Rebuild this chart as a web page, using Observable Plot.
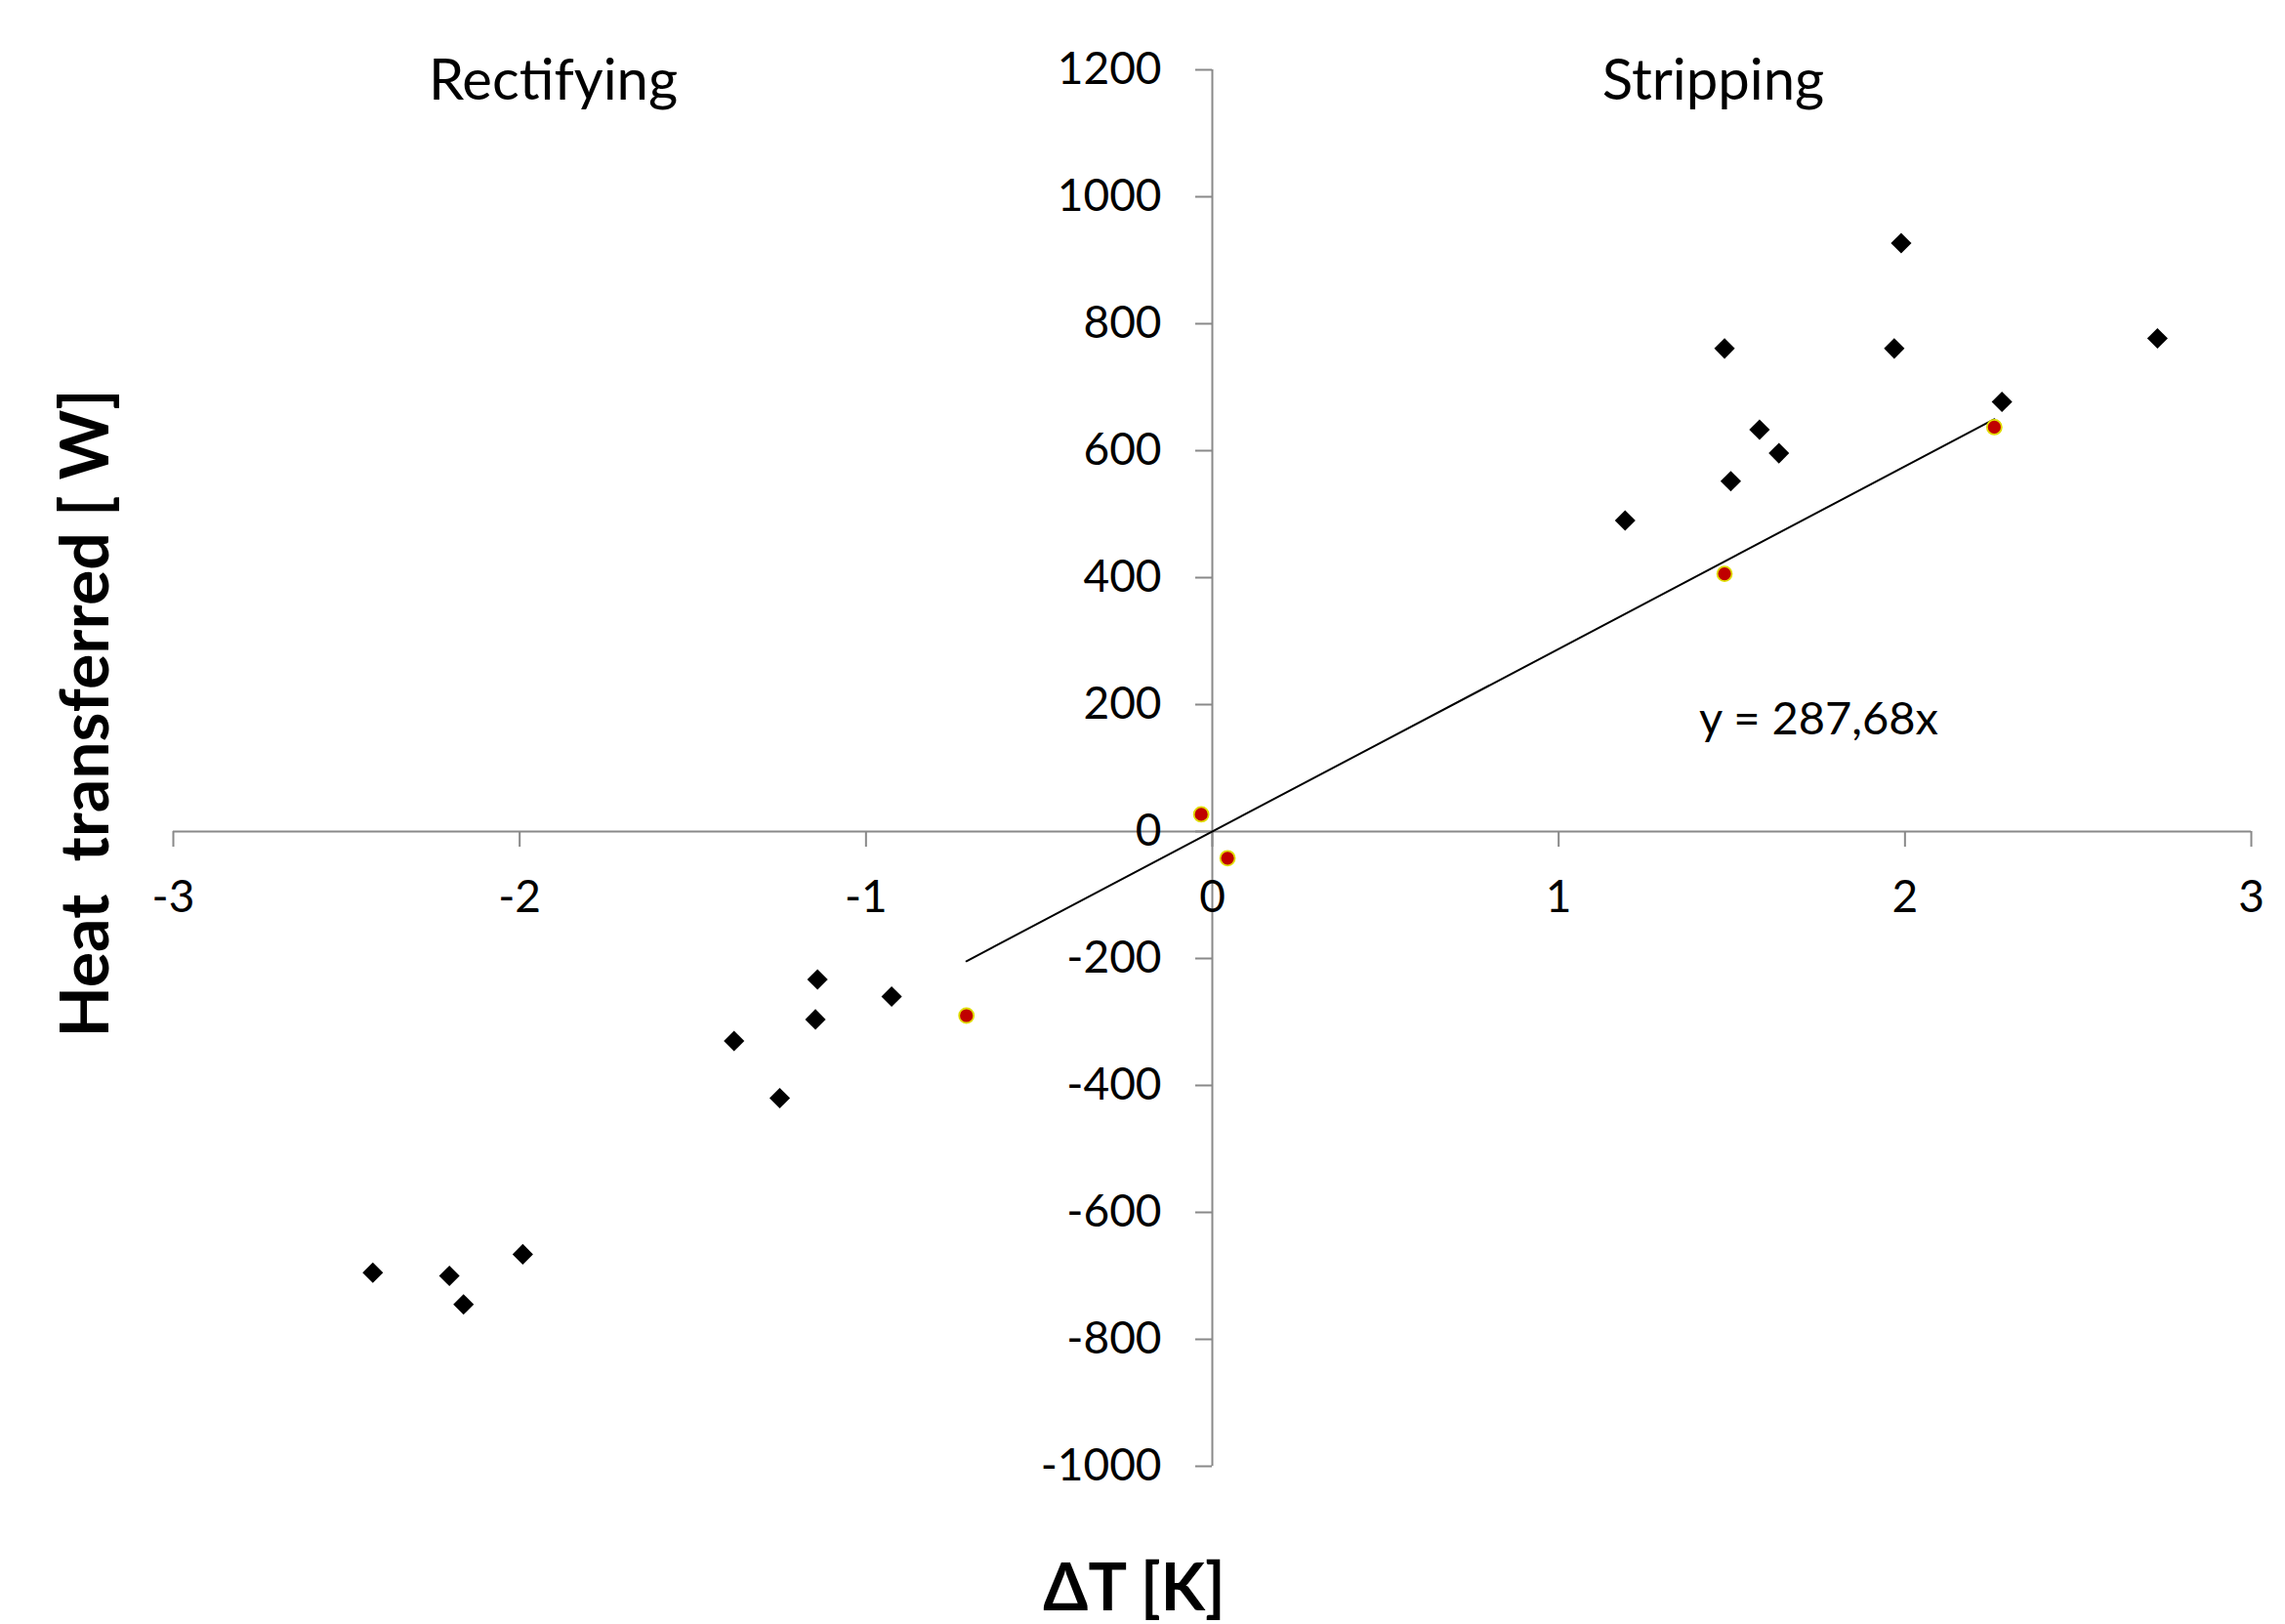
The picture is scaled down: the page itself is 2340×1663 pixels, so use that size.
<!DOCTYPE html>
<html>
<head>
<meta charset="utf-8">
<script src="https://cdn.jsdelivr.net/npm/d3@7"></script>
<script src="https://cdn.jsdelivr.net/npm/@observablehq/plot@0.6"></script>
<style>
  html, body { margin: 0; padding: 0; background: #ffffff; }
  #chart { width: 2340px; height: 1663px; }
</style>
</head>
<body>
<div id="chart"></div>
<script>
// Measured points (black diamonds)
const diamondX = [1.989, 1.479, 1.969, 2.729, 2.280, 1.580, 1.636, 1.497, 1.192, -0.926, -1.140, -1.146, -1.381, -1.249, -1.991, -2.424, -2.203, -2.162];
const diamondY = [927, 761, 761, 777, 677, 633, 596, 552, 490, -260, -233, -296, -330, -420, -666, -695, -700, -745];

// Highlighted points (red with yellow outline) used for the trendline
const redX = [2.258, 1.479, -0.032, 0.044, -0.710];
const redY = [637, 406, 27, -42, -290];

// Trendline through origin
const slope = 287.68;
const trendLabel = "y = 287,68x";

// Axis ticks
const xTicks = [-3, -2, -1, 0, 1, 2, 3];
const yTicks = [-1000, -800, -600, -400, -200, 0, 200, 400, 600, 800, 1000, 1200];

// Titles
const xTitle = "ΔT [K]";
const yTitle = "Heat  transferred [ W]";
const regionLabels = ["Rectifying", "Stripping"];

const diamonds = diamondX.map((x, i) => ({x, y: diamondY[i]}));
const reds = redX.map((x, i) => ({x, y: redY[i]}));
const xMin = d3.min(redX), xMax = d3.max(redX);
const trend = [xMin, xMax].map(x => ({x, y: slope * x}));

const axisColor = "#898989";
const font = "Lato, 'Open Sans', sans-serif";

const chart = Plot.plot({
  width: 2340,
  height: 1663,
  marginLeft: 177,
  marginRight: 35,
  marginTop: 71,
  marginBottom: 162,
  x: {domain: [-3, 3], axis: null},
  y: {domain: [-1000, 1200], axis: null},
  style: {fontFamily: font, background: "#ffffff", color: "#000"},
  marks: [
    // axes through origin
    Plot.ruleY([0], {stroke: axisColor, strokeWidth: 2}),
    Plot.ruleX([0], {stroke: axisColor, strokeWidth: 2}),
    // tick marks
    Plot.ruleX(xTicks, {x: d => d, y1: 0, y2: 0, insetBottom: -16, stroke: axisColor, strokeWidth: 2}),
    Plot.ruleY(yTicks, {y: d => d, x1: 0, x2: 0, insetLeft: -17, stroke: axisColor, strokeWidth: 2}),
    // tick labels
    Plot.text(xTicks, {x: d => d, y: 0, text: d => String(d), dy: 68, fontSize: 46, fill: "#000", lineAnchor: "middle"}),
    Plot.text(yTicks, {x: 0, y: d => d, text: d => String(d), dx: -52, textAnchor: "end", fontSize: 46, fill: "#000", lineAnchor: "middle"}),
    // trendline
    Plot.line(trend, {x: "x", y: "y", stroke: "#000", strokeWidth: 2}),
    // points
    Plot.dot(diamonds, {x: "x", y: "y", symbol: "diamond2", r: 9.5, fill: "#000", stroke: "none"}),
    Plot.dot(reds, {x: "x", y: "y", symbol: "circle", r: 7.5, fill: "#c00000", stroke: "#e0dc00", strokeWidth: 1.8}),
    // trend equation
    Plot.text([trendLabel], {frameAnchor: "top-left", dx: 1685, dy: 680, text: d => d, textAnchor: "middle", lineAnchor: "bottom", fontSize: 47, fill: "#000"}),
    // region labels
    Plot.text([regionLabels[0]], {frameAnchor: "top", dx: -675, dy: 30, text: d => d, textAnchor: "middle", lineAnchor: "bottom", fontSize: 58, fill: "#000"}),
    Plot.text([regionLabels[1]], {frameAnchor: "top", dx: 513, dy: 30, text: d => d, textAnchor: "middle", lineAnchor: "bottom", fontSize: 58, fill: "#000"}),
    // axis titles
    Plot.text([xTitle], {frameAnchor: "bottom", dx: -80, dy: 147, text: d => d, textAnchor: "middle", lineAnchor: "bottom", fontSize: 66, fontWeight: "bold", fill: "#000"}),
    Plot.text([yTitle], {frameAnchor: "left", dx: -67, dy: -56, rotate: -90, text: d => d, textAnchor: "middle", lineAnchor: "bottom", fontSize: 68, fontWeight: "bold", fill: "#000"})
  ]
});
document.getElementById("chart").appendChild(chart);
</script>
</body>
</html>
